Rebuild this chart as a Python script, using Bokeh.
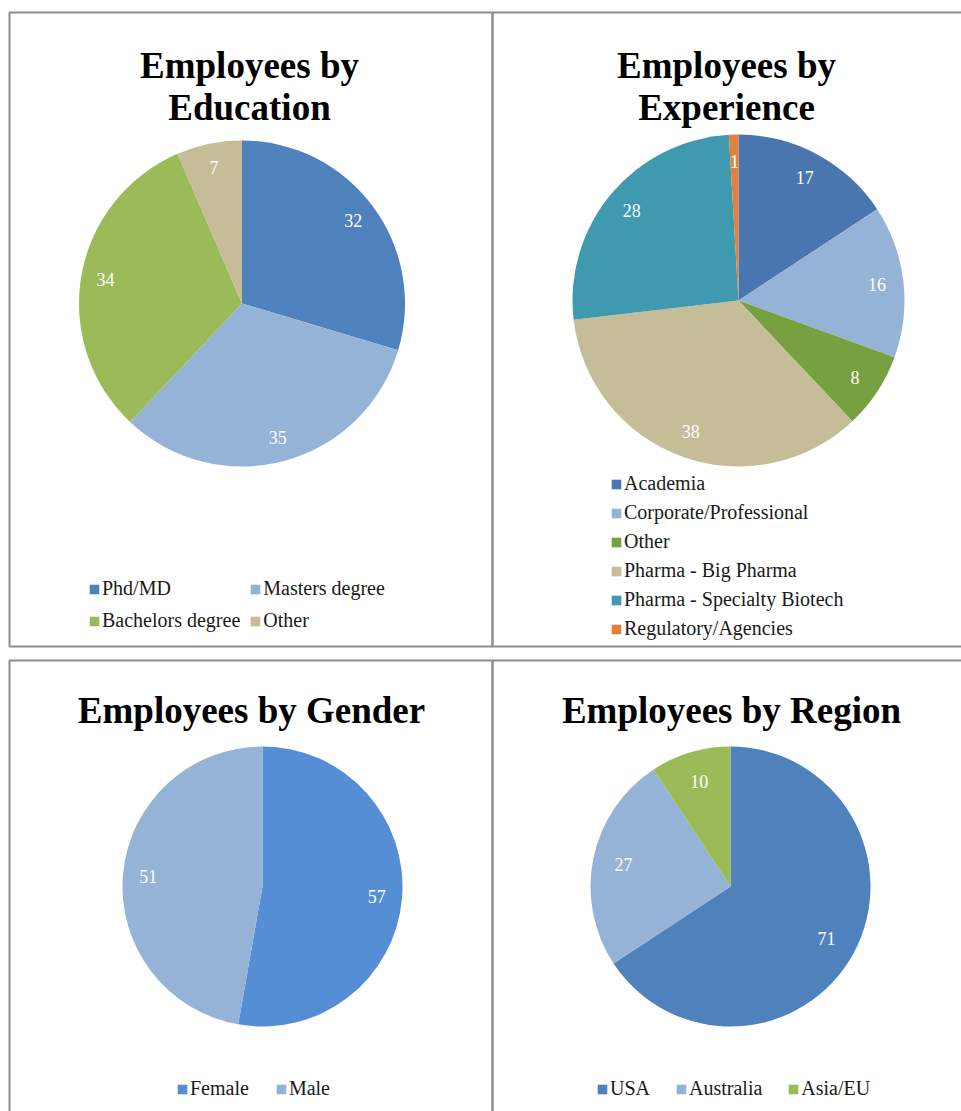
import numpy as np
from bokeh.plotting import figure
from bokeh.models import Range1d, Legend, LegendItem, ColumnDataSource
from bokeh.core.properties import value
from bokeh.embed import file_html
from bokeh.resources import INLINE

W, H = 961, 1111

# ---------------- data ----------------
edu_cats = ["Phd/MD", "Masters degree", "Bachelors degree", "Other"]
edu_vals = [32, 35, 34, 7]
edu_colors = ["#4F81BD", "#95B3D7", "#9BBB59", "#C4BD97"]

exp_cats = ["Academia", "Corporate/Professional", "Other", "Pharma - Big Pharma",
            "Pharma - Specialty Biotech", "Regulatory/Agencies"]
exp_vals = [17, 16, 8, 38, 28, 1]
exp_colors = ["#4A76B0", "#95B3D7", "#77A040", "#C4BD97", "#3F9AB0", "#E0823D"]

gen_cats = ["Female", "Male"]
gen_vals = [57, 51]
gen_colors = ["#558ED5", "#95B3D7"]

reg_cats = ["USA", "Australia", "Asia/EU"]
reg_vals = [71, 27, 10]
reg_colors = ["#4F81BD", "#95B3D7", "#9BBB59"]

titles = {
    "edu": ["Employees by", "Education"],
    "exp": ["Employees by", "Experience"],
    "gen": ["Employees by Gender"],
    "reg": ["Employees by Region"],
}

SERIF = value("Liberation Serif")

p = figure(width=W, height=H, output_backend="svg", toolbar_location=None,
           x_range=Range1d(0, W), y_range=Range1d(0, H),
           min_border=0, min_border_left=0, min_border_right=0,
           min_border_top=0, min_border_bottom=0)
p.axis.visible = False
p.grid.visible = False
p.outline_line_color = None
p.background_fill_color = "white"
p.border_fill_color = "white"


def Y(ypix):
    return H - ypix


# panel borders
panels = dict(left=[9, 492, 9, 492], right=[492, 975, 492, 975],
              top=[Y(12), Y(12), Y(660), Y(660)], bottom=[Y(646), Y(646), Y(1125), Y(1125)])
p.quad(left=panels["left"], right=panels["right"], top=panels["top"], bottom=panels["bottom"],
       fill_color=None, line_color="#8C8C8C", line_width=2)


def pie(cx, cy_pix, r, cats, vals, colors, label_frac):
    v = np.array(vals, dtype=float)
    frac = v / v.sum()
    cum = np.concatenate([[0.0], np.cumsum(frac)])
    start = np.pi / 2 - cum[:-1] * 2 * np.pi
    end = np.pi / 2 - cum[1:] * 2 * np.pi
    mid = (start + end) / 2
    cy = Y(cy_pix)
    src = ColumnDataSource(dict(
        cat=cats, val=v, start=start, end=end, color=colors,
        lx=cx + label_frac * r * np.cos(mid), ly=cy + label_frac * r * np.sin(mid),
        lab=[str(int(x)) for x in vals]))
    rend = p.wedge(x=cx, y=cy, radius=r, start_angle="start", end_angle="end",
                   direction="clock", fill_color="color", line_color=None, source=src)
    p.text(x="lx", y="ly", text="lab", source=src, text_color="white",
           text_font=SERIF, text_font_size="18px", text_align="center",
           text_baseline="middle")
    return rend


def title(cx, baselines, lines):
    p.text(x=[cx] * len(lines), y=[Y(b) for b in baselines], text=lines,
           text_font=SERIF, text_font_style="bold", text_font_size="37px",
           text_color="black", text_align="center", text_baseline="alphabetic")


def legend(rend, cats, loc, orientation="vertical", spacing=6, ncols=None):
    items = [LegendItem(label=c, renderers=[rend], index=i) for i, c in enumerate(cats)]
    kw = {}
    if ncols:
        kw["ncols"] = ncols
    leg = Legend(items=items, location=loc, orientation=orientation,
                 label_text_font="Liberation Serif", label_text_font_size="20px",
                 label_text_color="#1A1A1A", glyph_width=12, glyph_height=12,
                 label_standoff=2, spacing=spacing, padding=0, margin=0,
                 background_fill_alpha=0, border_line_color=None, **kw)
    p.add_layout(leg)
    return leg


r_edu = pie(241.5, 303, 163, edu_cats, edu_vals, edu_colors, 0.85)
r_exp = pie(738, 300, 166, exp_cats, exp_vals, exp_colors, 0.84)
r_gen = pie(262, 886, 140, gen_cats, gen_vals, gen_colors, 0.82)
r_reg = pie(730, 886, 140, reg_cats, reg_vals, reg_colors, 0.78)

title(249, [65, 107], titles["edu"])
title(726, [65, 107], titles["exp"])
title(251, [710], titles["gen"])
title(731, [710], titles["reg"])

legend(r_edu, edu_cats, (88, Y(632)), orientation="horizontal", spacing=9, ncols=2)
legend(r_exp, exp_cats, (610, Y(640)), spacing=6)
legend(r_gen, gen_cats, (176, Y(1100)), orientation="horizontal", spacing=26)
legend(r_reg, reg_cats, (596, Y(1100)), orientation="horizontal", spacing=25)

open("out.html", "w").write(file_html(p, INLINE))
